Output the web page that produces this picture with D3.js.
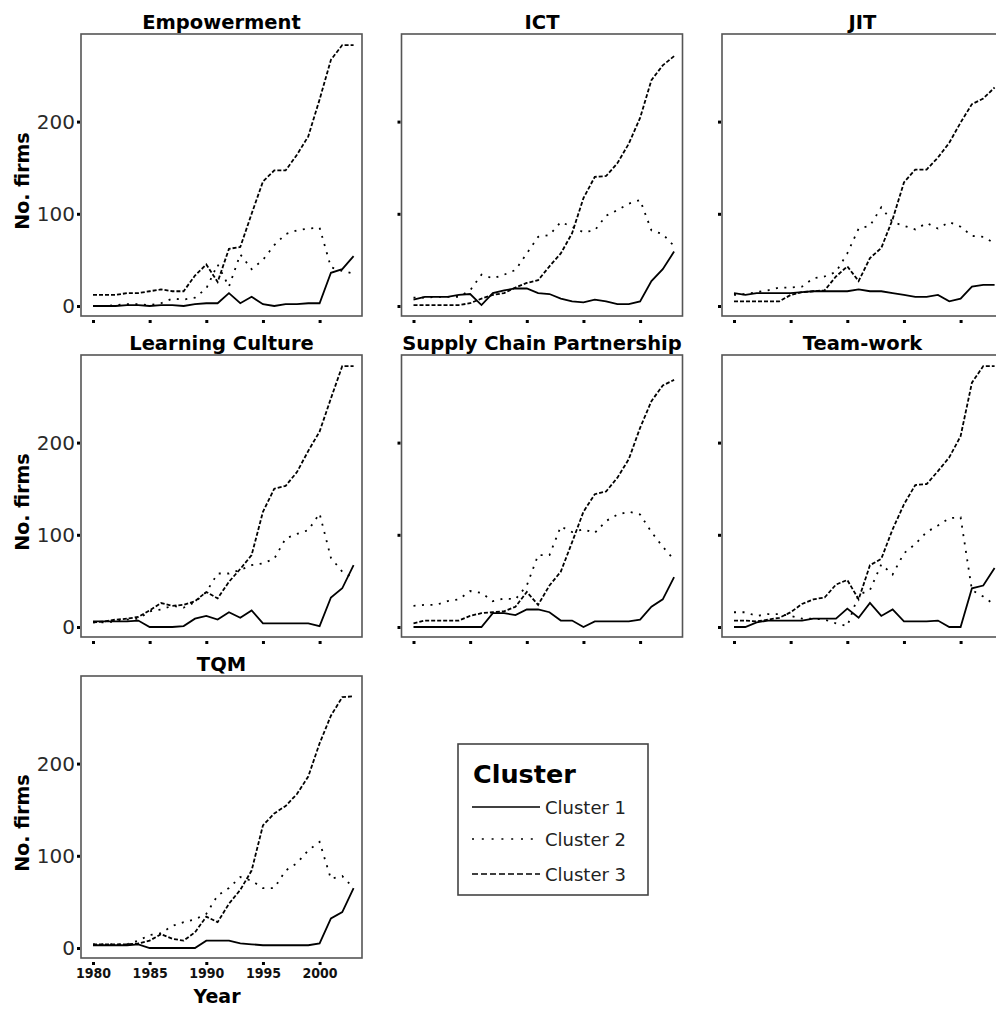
<!DOCTYPE html>
<html>
<head>
<meta charset="utf-8">
<script src="https://cdn.jsdelivr.net/npm/d3@7"></script>
<style>
  body { margin: 0; background: #fff; }
  svg { display: block; }
</style>
</head>
<body>
<div id="wrapper"></div>
<script>
const years = [1980, 1981, 1982, 1983, 1984, 1985, 1986, 1987, 1988, 1989, 1990, 1991,
  1992, 1993, 1994, 1995, 1996, 1997, 1998, 1999, 2000, 2001, 2002, 2003];
const practices = ["Empowerment", "ICT", "JIT", "Learning Culture",
  "Supply Chain Partnership", "Team-work", "TQM"];
const clusterNames = ["Cluster 1", "Cluster 2", "Cluster 3"];
const xTickValues = [1980, 1985, 1990, 1995, 2000];
const yTickValues = [0, 100, 200];

// No. firms per year, one array per practice and cluster
const empowermentC1 = [0, 0, 0, 1, 1, 0, 1, 1, 0, 2, 3, 3, 14, 3, 10, 2, 0, 2, 2, 3, 3, 36, 40, 54];
const empowermentC2 = [0, 0, 1, 2, 2, 1, 3, 8, 7, 9, 19, 45, 21, 56, 40, 50, 66, 78, 82, 84, 85, 42, 38, 35];
const empowermentC3 = [12, 12, 12, 14, 14, 16, 18, 16, 16, 33, 45, 26, 62, 64, 100, 135, 147, 147, 164, 184, 224, 267, 283, 283];

const ictC1 = [7, 10, 10, 10, 12, 13, 1, 14, 17, 19, 19, 14, 13, 8, 5, 4, 7, 5, 2, 2, 5, 27, 40, 59];
const ictC2 = [9, 9, 10, 10, 10, 17, 34, 30, 34, 39, 57, 75, 77, 91, 86, 80, 82, 98, 104, 111, 115, 82, 78, 65];
const ictC3 = [1, 1, 1, 1, 1, 3, 8, 12, 14, 20, 25, 28, 43, 57, 79, 117, 140, 141, 155, 176, 204, 245, 261, 271];

const jitC1 = [14, 12, 14, 14, 14, 14, 15, 16, 16, 16, 16, 18, 16, 16, 14, 12, 10, 10, 12, 5, 8, 21, 23, 23];
const jitC2 = [12, 13, 15, 17, 20, 20, 21, 30, 32, 37, 57, 84, 87, 107, 91, 87, 83, 90, 84, 91, 86, 76, 75, 68];
const jitC3 = [5, 5, 5, 5, 5, 12, 15, 16, 17, 32, 43, 27, 52, 63, 94, 134, 148, 148, 161, 177, 199, 219, 225, 237];

const learningC1 = [6, 6, 6, 6, 7, 0, 0, 0, 1, 9, 12, 8, 16, 10, 18, 4, 4, 4, 4, 4, 1, 32, 42, 67];
const learningC2 = [5, 5, 6, 8, 9, 17, 19, 23, 21, 27, 38, 58, 58, 62, 67, 69, 74, 96, 101, 105, 123, 75, 60, 53];
const learningC3 = [5, 6, 8, 9, 11, 18, 26, 23, 24, 28, 38, 31, 49, 63, 78, 125, 150, 153, 168, 191, 212, 248, 283, 283];

const supplyC1 = [0, 0, 0, 0, 0, 0, 0, 15, 15, 13, 19, 19, 16, 7, 7, 0, 6, 6, 6, 6, 8, 22, 30, 54];
const supplyC2 = [23, 24, 24, 28, 30, 39, 37, 28, 31, 30, 45, 78, 78, 109, 103, 106, 102, 115, 122, 125, 122, 103, 87, 73];
const supplyC3 = [4, 7, 7, 7, 7, 12, 15, 16, 17, 22, 38, 24, 45, 60, 92, 125, 144, 147, 162, 182, 216, 245, 262, 268];

const teamC1 = [0, 0, 5, 7, 7, 7, 7, 9, 9, 9, 20, 10, 26, 12, 19, 6, 6, 6, 7, 0, 0, 42, 45, 64];
const teamC2 = [16, 16, 12, 14, 14, 12, 9, 9, 8, 4, 1, 35, 40, 68, 57, 80, 90, 103, 110, 118, 119, 40, 33, 24];
const teamC3 = [7, 7, 6, 8, 10, 16, 25, 30, 32, 46, 51, 30, 67, 74, 106, 133, 154, 155, 169, 184, 207, 265, 283, 283];

const tqmC1 = [3, 3, 3, 3, 4, 0, 0, 0, 0, 0, 8, 8, 8, 5, 4, 3, 3, 3, 3, 3, 5, 32, 39, 65];
const tqmC2 = [4, 4, 4, 4, 8, 14, 16, 24, 28, 31, 37, 57, 65, 77, 73, 65, 65, 84, 92, 106, 115, 75, 78, 65];
const tqmC3 = [4, 4, 4, 4, 5, 8, 15, 10, 8, 17, 34, 28, 48, 63, 84, 133, 146, 154, 167, 186, 222, 252, 272, 273];

const panelSeries = [
  [empowermentC1, empowermentC2, empowermentC3],
  [ictC1, ictC2, ictC3],
  [jitC1, jitC2, jitC3],
  [learningC1, learningC2, learningC3],
  [supplyC1, supplyC2, supplyC3],
  [teamC1, teamC2, teamC3],
  [tqmC1, tqmC2, tqmC3],
];

// line look for cluster 1, 2, 3 (panels and legend differ a little, as in the original)
const dashStyles = [null, "2,6.5", "4,2"];
const legendDashStyles = [null, "2,7.8", "6,3"];

function drawClusterPanels() {
  let dimensions = {
    width: 996,
    height: 1010,
    frameWidth: 281,
    frameHeight: 282,
    colLeft: [81, 401.5, 722],
    rowTop: [34, 355, 676],
  };

  const svg = d3.select("#wrapper").append("svg")
    .attr("width", dimensions.width)
    .attr("height", dimensions.height)
    .style("overflow", "hidden");

  const xScale = d3.scaleLinear()
    .domain([1980, 2000])
    .range([12, 238.6]);

  const yScale = d3.scaleLinear()
    .domain([0, 200])
    .range([272, 87.6]);

  const lineGenerator = d3.line()
    .x(d => xScale(d[0]))
    .y(d => yScale(d[1]));

  practices.forEach((name, i) => {
    const col = i % 3;
    const row = Math.floor(i / 3);
    const isLeft = col === 0;
    const isBottom = i === practices.length - 1;

    const bounds = svg.append("g")
      .attr("transform", `translate(${dimensions.colLeft[col]},${dimensions.rowTop[row]})`);

    bounds.append("rect")
      .attr("width", dimensions.frameWidth)
      .attr("height", dimensions.frameHeight)
      .attr("fill", "none")
      .attr("stroke", "#555")
      .attr("stroke-width", 1.6);

    panelSeries[i].forEach((values, k) => {
      bounds.append("path")
        .attr("d", lineGenerator(years.map((yr, j) => [yr, values[j]])))
        .attr("fill", "none")
        .attr("stroke", "#000")
        .attr("stroke-width", 1.8)
        .attr("stroke-dasharray", dashStyles[k]);
    });

    bounds.append("text")
      .attr("x", dimensions.frameWidth / 2)
      .attr("y", -5)
      .attr("text-anchor", "middle")
      .style("font-family", "'DejaVu Sans', sans-serif")
      .style("font-weight", "bold")
      .style("font-size", "19.5px")
      .text(name);

    const yAxisGenerator = d3.axisLeft(yScale)
      .tickValues(yTickValues)
      .tickSize(3)
      .tickPadding(2)
      .tickFormat(isLeft ? d3.format("d") : () => "");

    const yAxis = bounds.append("g")
      .attr("transform", "translate(-1,0)")
      .call(yAxisGenerator);
    yAxis.select(".domain").remove();
    yAxis.selectAll(".tick line").attr("stroke-width", 3);
    yAxis.selectAll(".tick text")
      .style("font-family", "'DejaVu Sans', sans-serif")
      .style("font-size", "20px")
      .attr("fill", "#2a2a2a");

    const xAxisGenerator = d3.axisBottom(xScale)
      .tickValues(xTickValues)
      .tickSize(3)
      .tickPadding(3)
      .tickFormat(isBottom ? d3.format("d") : () => "");

    const xAxis = bounds.append("g")
      .attr("transform", `translate(0,${dimensions.frameHeight + 4})`)
      .call(xAxisGenerator);
    xAxis.select(".domain").remove();
    xAxis.selectAll(".tick line").attr("stroke-width", 3);
    xAxis.selectAll(".tick text")
      .style("font-family", "'DejaVu Sans Condensed', 'DejaVu Sans', sans-serif")
      .style("font-weight", "bold")
      .style("font-size", "14px")
      .attr("fill", "#111");

    if (isLeft) {
      bounds.append("text")
        .attr("transform", `translate(-52,147) rotate(-90)`)
        .attr("text-anchor", "middle")
        .style("font-family", "'DejaVu Sans', sans-serif")
        .style("font-weight", "bold")
        .style("font-size", "19px")
        .text("No. firms");
    }

    if (isBottom) {
      bounds.append("text")
        .attr("x", 136)
        .attr("y", 327)
        .attr("text-anchor", "middle")
        .style("font-family", "'DejaVu Sans', sans-serif")
        .style("font-weight", "bold")
        .style("font-size", "19px")
        .text("Year");
    }
  });

  // legend sits in the empty slot next to TQM
  const legend = svg.append("g")
    .attr("transform", "translate(458,744)");

  legend.append("rect")
    .attr("width", 190)
    .attr("height", 151)
    .attr("fill", "#fff")
    .attr("stroke", "#444")
    .attr("stroke-width", 1.6);

  legend.append("text")
    .attr("x", 15)
    .attr("y", 39)
    .style("font-family", "'DejaVu Sans', sans-serif")
    .style("font-weight", "bold")
    .style("font-size", "25.5px")
    .text("Cluster");

  const rowY = [63, 95, 130];
  clusterNames.forEach((label, k) => {
    legend.append("line")
      .attr("x1", 14)
      .attr("x2", 82)
      .attr("y1", rowY[k])
      .attr("y2", rowY[k])
      .attr("stroke", "#000")
      .attr("stroke-width", 1.6)
      .attr("stroke-dasharray", legendDashStyles[k]);

    legend.append("text")
      .attr("x", 87)
      .attr("y", rowY[k] + 7)
      .style("font-family", "'DejaVu Sans', sans-serif")
      .style("font-size", "18px")
      .attr("fill", "#222")
      .text(label);
  });
}

drawClusterPanels();
</script>
</body>
</html>
